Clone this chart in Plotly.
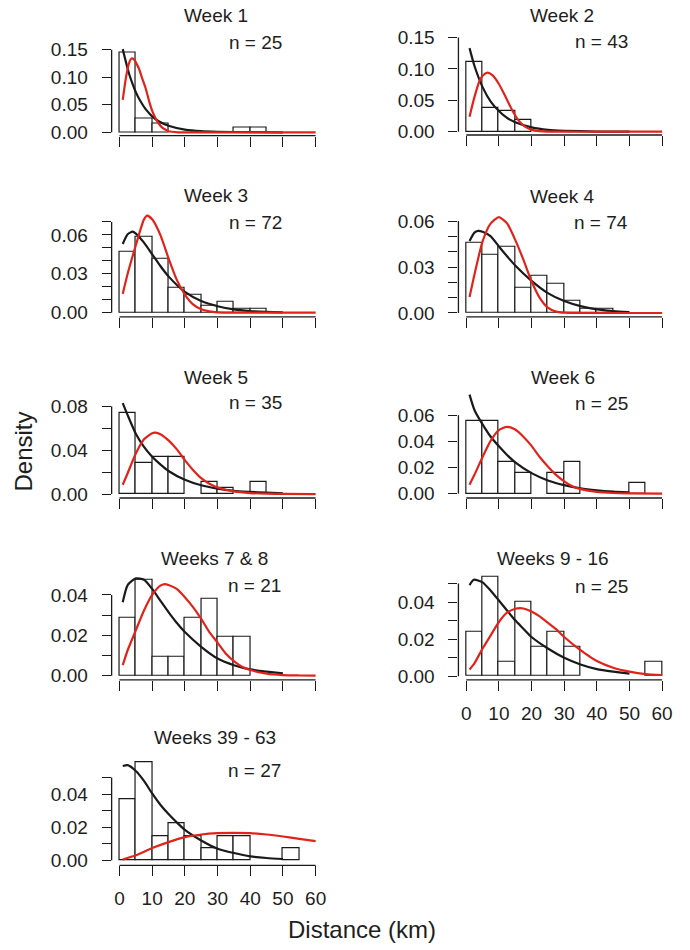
import plotly.graph_objects as go

# ---------------- data ----------------
panel_titles = ["Week 1", "Week 2", "Week 3", "Week 4", "Week 5", "Week 6",
                "Weeks 7 & 8", "Weeks 9 - 16", "Weeks 39 - 63"]
n_values = [25, 43, 72, 74, 35, 25, 21, 25, 27]
bin_edges = [0, 5, 10, 15, 20, 25, 30, 35, 40, 45, 50, 55, 60]
x_ticks = [0, 10, 20, 30, 40, 50, 60]

# histogram densities per 5 km bin (0-5, 5-10, ..., 55-60)
w1_bars = [0.144, 0.024, 0.016, 0, 0, 0, 0, 0.008, 0.008, 0, 0, 0]
w2_bars = [0.1116, 0.0372, 0.0326, 0.0186, 0, 0, 0, 0, 0, 0, 0, 0]
w3_bars = [0.0472, 0.0583, 0.0417, 0.0194, 0.0139, 0.0056, 0.0083, 0.0028, 0.0028, 0, 0, 0]
w4_bars = [0.0459, 0.0378, 0.0432, 0.0162, 0.0243, 0.0189, 0.0081, 0.0027, 0.0027, 0, 0, 0]
w5_bars = [0.0743, 0.0286, 0.0343, 0.0343, 0, 0.0114, 0.0057, 0, 0.0114, 0, 0, 0]
w6_bars = [0.056, 0.056, 0.024, 0.016, 0, 0.016, 0.024, 0, 0, 0, 0.008, 0]
w7_bars = [0.0286, 0.0476, 0.0095, 0.0095, 0.0286, 0.0381, 0.019, 0.019, 0, 0, 0, 0]
w9_bars = [0.024, 0.0534, 0.008, 0.040, 0.016, 0.024, 0.016, 0, 0, 0, 0, 0.008]
w39_bars = [0.037, 0.0593, 0.0148, 0.0222, 0.0148, 0.0074, 0.0148, 0.0148, 0, 0, 0.0074, 0]

# black fitted curves
w1_black_x = [1, 2, 3, 4, 5, 6, 7, 8, 10, 12, 15, 20, 25, 30, 40, 50]
w1_black_y = [0.151, 0.127, 0.105, 0.088, 0.073, 0.061, 0.051, 0.042, 0.029, 0.020, 0.012, 0.005, 0.002, 0.001, 0.0002, 0.0]
w2_black_x = [1, 2.5, 5, 7.5, 10, 12.5, 15, 20, 25, 30, 40, 50]
w2_black_y = [0.133, 0.105, 0.071, 0.048, 0.033, 0.022, 0.015, 0.007, 0.003, 0.0015, 0.0003, 0.0001]
w3_black_x = [1, 2.5, 4, 5, 7.5, 10, 12.5, 15, 20, 25, 30, 35, 40, 45, 50]
w3_black_y = [0.053, 0.0605, 0.0625, 0.061, 0.054, 0.045, 0.036, 0.028, 0.016, 0.009, 0.005, 0.0025, 0.0012, 0.0006, 0.0003]
w4_black_x = [1, 2.5, 3.6, 5, 7.5, 10, 12.5, 15, 20, 25, 30, 35, 40, 45, 50]
w4_black_y = [0.047, 0.0525, 0.0536, 0.053, 0.050, 0.0434, 0.037, 0.031, 0.021, 0.013, 0.0078, 0.0045, 0.0024, 0.0013, 0.0006]
w5_black_x = [1, 2.5, 5, 7.5, 10, 12.5, 15, 20, 25, 30, 35, 40, 45, 50]
w5_black_y = [0.083, 0.072, 0.055, 0.043, 0.034, 0.027, 0.021, 0.013, 0.008, 0.005, 0.003, 0.002, 0.0012, 0.0007]
w6_black_x = [1, 2.5, 5, 7.5, 10, 12.5, 15, 20, 25, 30, 35, 40, 45, 50]
w6_black_y = [0.0757, 0.064, 0.053, 0.0435, 0.0362, 0.0296, 0.0239, 0.0157, 0.0101, 0.0065, 0.0040, 0.0025, 0.0015, 0.0009]
w7_black_x = [1, 2.5, 5, 7.5, 10, 12.5, 15, 17.5, 20, 25, 30, 35, 40, 45, 50]
w7_black_y = [0.0364, 0.0449, 0.0482, 0.0475, 0.043, 0.0372, 0.0315, 0.0262, 0.0216, 0.0143, 0.0085, 0.0052, 0.0031, 0.002, 0.0011]
w9_black_x = [1, 2.3, 5, 7.5, 10, 12.5, 15, 17.5, 20, 25, 30, 35, 40, 45, 50]
w9_black_y = [0.0492, 0.0521, 0.0507, 0.0462, 0.0409, 0.0355, 0.0302, 0.0257, 0.0212, 0.015, 0.010, 0.0064, 0.0039, 0.0025, 0.0014]
w39_black_x = [1, 2.5, 5, 7.5, 10, 12.5, 15, 17.5, 20, 25, 30, 35, 40, 45, 50]
w39_black_y = [0.057, 0.0575, 0.054, 0.048, 0.0404, 0.0336, 0.028, 0.023, 0.0184, 0.012, 0.007, 0.0044, 0.0024, 0.0014, 0.0008]

# red fitted curves
w1_red_x = [1, 2, 3, 3.7, 4.5, 5, 6, 7, 8, 9, 10, 11, 12, 13, 14, 15, 16, 18, 20, 30, 40, 50, 60]
w1_red_y = [0.059, 0.100, 0.127, 0.134, 0.132, 0.127, 0.115, 0.097, 0.080, 0.058, 0.039, 0.026, 0.016, 0.009, 0.005, 0.002, 0.001, 0, 0, 0, 0, 0, 0]
w2_red_x = [1, 2.5, 4, 5, 6.5, 8, 10, 12, 14, 16, 18, 20, 22.5, 25, 30, 40, 50, 60]
w2_red_y = [0.024, 0.055, 0.080, 0.089, 0.094, 0.090, 0.076, 0.056, 0.035, 0.018, 0.008, 0.003, 0.001, 0.0003, 0, 0, 0, 0]
w3_red_x = [1, 2.5, 5, 7.5, 8.5, 10, 12.5, 15, 17.5, 20, 22.5, 25, 27.5, 30, 35, 40, 50, 60]
w3_red_y = [0.0145, 0.030, 0.052, 0.072, 0.0748, 0.072, 0.060, 0.042, 0.0255, 0.014, 0.0064, 0.0026, 0.001, 0.0003, 0, 0, 0, 0]
w4_red_x = [1, 2.5, 5, 7.5, 10, 12.5, 15, 17.5, 20, 22.5, 25, 27.5, 30, 35, 40, 50, 60]
w4_red_y = [0.0104, 0.025, 0.0467, 0.0585, 0.0626, 0.0585, 0.0477, 0.0348, 0.0207, 0.0099, 0.0035, 0.0009, 0.0002, 0, 0, 0, 0]
w5_red_x = [1, 2.5, 5, 7.5, 10, 11, 12.5, 15, 17.5, 20, 22.5, 25, 27.5, 30, 35, 40, 45, 50, 60]
w5_red_y = [0.0085, 0.019, 0.037, 0.050, 0.0555, 0.056, 0.0546, 0.049, 0.041, 0.031, 0.022, 0.0145, 0.0094, 0.006, 0.0024, 0.0009, 0.0003, 0.0001, 0]
w6_red_x = [1, 2.5, 5, 7.5, 10, 12.5, 15, 17.5, 20, 22.5, 25, 27.5, 30, 32.5, 35, 40, 45, 50, 60]
w6_red_y = [0.0068, 0.0144, 0.028, 0.0405, 0.0486, 0.0511, 0.049, 0.0435, 0.0365, 0.028, 0.0208, 0.0144, 0.0094, 0.0056, 0.0035, 0.0013, 0.0005, 0.0002, 0]
w7_red_x = [1, 2.5, 5, 7.5, 10, 12.5, 14, 15, 17.5, 20, 22.5, 25, 27.5, 30, 32.5, 35, 37.5, 40, 45, 50, 55, 60]
w7_red_y = [0.0052, 0.0126, 0.0225, 0.0323, 0.040, 0.0446, 0.0454, 0.0449, 0.043, 0.0389, 0.034, 0.0282, 0.0216, 0.0164, 0.011, 0.0072, 0.0044, 0.0028, 0.001, 0.0003, 0.0001, 0]
w9_red_x = [1, 2.5, 5, 7.5, 10, 12.5, 15, 16.5, 17.5, 20, 22.5, 25, 27.5, 30, 35, 40, 45, 50, 55, 60]
w9_red_y = [0.0037, 0.007, 0.015, 0.0221, 0.0293, 0.0343, 0.0364, 0.0368, 0.0366, 0.035, 0.0323, 0.0289, 0.0254, 0.0212, 0.0141, 0.0082, 0.0046, 0.0025, 0.0012, 0.0007]
w39_red_x = [1, 5, 10, 15, 20, 25, 30, 35, 40, 45, 50, 55, 60]
w39_red_y = [0.0004, 0.003, 0.0074, 0.011, 0.014, 0.0156, 0.0164, 0.0166, 0.0164, 0.0156, 0.0144, 0.013, 0.0116]

# y-axis ticks per panel (all ticks) and which carry labels
y_ticks = [
    [0, 0.05, 0.10, 0.15],
    [0, 0.05, 0.10, 0.15],
    [0, 0.01, 0.02, 0.03, 0.04, 0.05, 0.06, 0.07],
    [0, 0.01, 0.02, 0.03, 0.04, 0.05, 0.06],
    [0, 0.02, 0.04, 0.06, 0.08],
    [0, 0.02, 0.04, 0.06],
    [0, 0.01, 0.02, 0.03, 0.04],
    [0, 0.01, 0.02, 0.03, 0.04, 0.05],
    [0, 0.01, 0.02, 0.03, 0.04, 0.05],
]
y_labels = [
    ["0.00", "0.05", "0.10", "0.15"],
    ["0.00", "0.05", "0.10", "0.15"],
    ["0.00", "", "", "0.03", "", "", "0.06", ""],
    ["0.00", "", "", "0.03", "", "", "0.06"],
    ["0.00", "", "0.04", "", "0.08"],
    ["0.00", "0.02", "0.04", "0.06"],
    ["0.00", "", "0.02", "", "0.04"],
    ["0.00", "", "0.02", "", "0.04", ""],
    ["0.00", "", "0.02", "", "0.04", ""],
]

bars = [w1_bars, w2_bars, w3_bars, w4_bars, w5_bars, w6_bars, w7_bars, w9_bars, w39_bars]
black_x = [w1_black_x, w2_black_x, w3_black_x, w4_black_x, w5_black_x, w6_black_x, w7_black_x, w9_black_x, w39_black_x]
black_y = [w1_black_y, w2_black_y, w3_black_y, w4_black_y, w5_black_y, w6_black_y, w7_black_y, w9_black_y, w39_black_y]
red_x = [w1_red_x, w2_red_x, w3_red_x, w4_red_x, w5_red_x, w6_red_x, w7_red_x, w9_red_x, w39_red_x]
red_y = [w1_red_y, w2_red_y, w3_red_y, w4_red_y, w5_red_y, w6_red_y, w7_red_y, w9_red_y, w39_red_y]

# ---------------- layout (pixel geometry) ----------------
W, H = 690, 950
FONT = "Liberation Sans, Arial, Helvetica, sans-serif"
TXT = "#1e1e1e"
BLACK = "#1a1a1a"
RED = "#e2231a"
FS = 19

# column: pixel of x=0 and x=60
col_px = [(120.0, 317.0), (468.3, 665.0)]
# per panel: pixel of y=0, pixels per unit, pixel of x-axis line
y_geom = [
    (133.3, 555, 136.7), (132.7, 633, 136.0),
    (315.0, 1306, 319.3), (315.3, 1543, 319.3),
    (497.7, 1104, 501.7), (497.3, 1317, 501.7),
    (680.7, 2033, 685.0), (681.3, 1867, 685.0),
    (866.7, 1667, 871.7),
]
title_px = [(216.7, 15.5), (564.7, 15.5), (217, 197), (565, 197.5), (217, 380), (565, 380),
            (215.5, 563), (555, 563), (215.5, 743)]
n_px = [(256.7, 42.7), (603.8, 42), (256.7, 223.7), (603.8, 224.5), (256.7, 405.5), (603.8, 406),
        (256, 590), (603.8, 590.5), (256, 775.8)]
label_panels = {7, 8}
DOM_H = 125

fig = go.Figure()
layout = dict(width=W, height=H, margin=dict(l=0, r=0, t=0, b=0),
              paper_bgcolor="white", plot_bgcolor="rgba(0,0,0,0)",
              showlegend=False, shapes=[], annotations=[], bargap=0)

centers = [(a + b) / 2 for a, b in zip(bin_edges[:-1], bin_edges[1:])]
widths = [b - a for a, b in zip(bin_edges[:-1], bin_edges[1:])]

for i in range(9):
    k = i + 1
    sfx = "" if k == 1 else str(k)
    xa, ya = "x" + sfx, "y" + sfx
    col = i % 2
    x0p, x60p = col_px[col]
    sx = (x60p - x0p) / 60.0
    left_px = x0p - 2.4 * sx
    right_px = x60p + 2.4 * sx
    p0, s, pb = y_geom[i]
    pt = pb - DOM_H
    ylo = -(pb - p0) / s
    yhi = (p0 - pt) / s

    bx = [c for c, v in zip(centers, bars[i]) if v > 0]
    bw = [w for w, v in zip(widths, bars[i]) if v > 0]
    bv = [v for v in bars[i] if v > 0]
    fig.add_trace(go.Bar(x=bx, y=bv, width=bw, xaxis=xa, yaxis=ya,
                         marker=dict(color="white", line=dict(color=BLACK, width=1.2)),
                         hoverinfo="skip"))
    fig.add_trace(go.Scatter(x=black_x[i], y=black_y[i], mode="lines", xaxis=xa, yaxis=ya,
                             line=dict(color=BLACK, width=2.2, shape="spline", smoothing=0.6),
                             hoverinfo="skip"))
    fig.add_trace(go.Scatter(x=red_x[i], y=red_y[i], mode="lines", xaxis=xa, yaxis=ya,
                             line=dict(color=RED, width=2.2, shape="spline", smoothing=0.6),
                             hoverinfo="skip"))

    layout["xaxis" + sfx] = dict(
        domain=[left_px / W, right_px / W], range=[-2.4, 62.4], anchor=ya,
        showgrid=False, zeroline=False, showline=False,
        ticks="outside", ticklen=10, tickwidth=1.3, tickcolor=BLACK,
        tickvals=x_ticks, ticktext=[str(t) for t in x_ticks],
        showticklabels=(i in label_panels), ticklabelstandoff=6,
        tickfont=dict(family=FONT, size=FS, color=TXT), fixedrange=True)
    layout["yaxis" + sfx] = dict(
        domain=[1 - pb / H, 1 - pt / H], range=[ylo, yhi], anchor=xa,
        showgrid=False, zeroline=False, showline=False,
        ticks="outside", ticklen=9, tickwidth=1.3, tickcolor=BLACK,
        tickvals=y_ticks[i], ticktext=y_labels[i], ticklabelstandoff=10,
        tickfont=dict(family=FONT, size=FS, color=TXT), fixedrange=True)

    # R-style detached axis lines spanning only the tick range
    layout["shapes"].append(dict(type="line", xref=xa, yref=ya + " domain",
                                 x0=x_ticks[0], x1=x_ticks[-1], y0=0, y1=0,
                                 line=dict(color=BLACK, width=1.3)))
    layout["shapes"].append(dict(type="line", xref=xa + " domain", yref=ya,
                                 x0=0, x1=0, y0=y_ticks[i][0], y1=y_ticks[i][-1],
                                 line=dict(color=BLACK, width=1.3)))

    tx, ty = title_px[i]
    layout["annotations"].append(dict(text=panel_titles[i], xref="paper", yref="paper",
                                      x=tx / W, y=1 - ty / H, xanchor="center", yanchor="middle",
                                      showarrow=False, font=dict(family=FONT, size=FS, color=TXT)))
    nx, ny = n_px[i]
    layout["annotations"].append(dict(text="n = %d" % n_values[i], xref="paper", yref="paper",
                                      x=nx / W, y=1 - ny / H, xanchor="center", yanchor="middle",
                                      showarrow=False, font=dict(family=FONT, size=FS, color=TXT)))

layout["annotations"].append(dict(text="Density", xref="paper", yref="paper",
                                  x=24 / W, y=1 - 455 / H, textangle=-90,
                                  xanchor="center", yanchor="middle", showarrow=False,
                                  font=dict(family=FONT, size=24, color=TXT)))
layout["annotations"].append(dict(text="Distance (km)", xref="paper", yref="paper",
                                  x=363.7 / W, y=1 - 936 / H,
                                  xanchor="center", yanchor="middle", showarrow=False,
                                  font=dict(family=FONT, size=24, color=TXT)))

fig.update_layout(**layout)
fig.write_html("out.html")
